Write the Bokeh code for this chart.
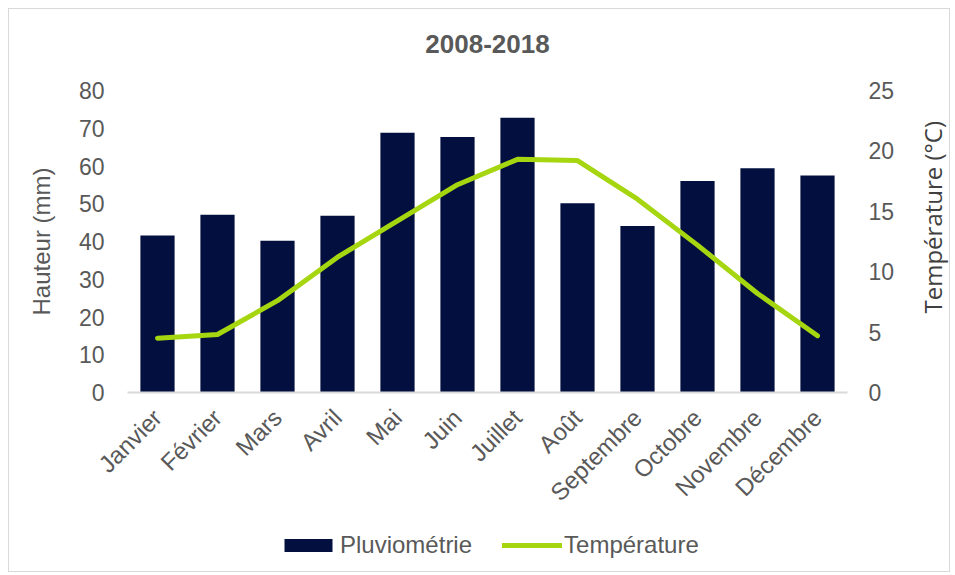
import math
from bokeh.plotting import figure
from bokeh.layouts import column, row
from bokeh.models import Range1d, LinearAxis, Legend, LegendItem, FixedTicker, Title
from bokeh.embed import file_html
from bokeh.resources import INLINE

months = ["Janvier", "Février", "Mars", "Avril", "Mai", "Juin", "Juillet",
          "Août", "Septembre", "Octobre", "Novembre", "Décembre"]
rain = [41.6, 47.1, 40.2, 46.8, 68.8, 67.7, 72.8, 50.1, 44.1, 56.0, 59.4, 57.5]
temp = [4.5, 4.8, 7.6, 11.2, 14.2, 17.2, 19.3, 19.2, 16.0, 12.2, 8.2, 4.7]
left_ticks = [0, 10, 20, 30, 40, 50, 60, 70, 80]
right_ticks = [0, 5, 10, 15, 20, 25]

GRAY = "#595959"
NAVY = "#03103f"
LIME = "#a5d610"
FONT = "Liberation Sans"

RW = 36  # width of the strip holding the right axis title

p = figure(x_range=months, y_range=Range1d(0, 80), width=940 - RW, height=511,
           output_backend="svg", toolbar_location=None,
           min_border_left=118, min_border_right=102 - RW, min_border_top=81,
           min_border_bottom=128)
p.outline_line_color = None
p.grid.grid_line_color = None
p.background_fill_color = "white"
p.border_fill_color = "white"

p.extra_y_ranges = {"temp": Range1d(0, 25)}

bars = p.vbar(x=months, top=rain, width=0.57, fill_color=NAVY, line_color=None)
ln = p.line(x=months, y=temp, y_range_name="temp", line_color=LIME, line_width=5,
            line_cap="round", line_join="round")

# left axis
ya = p.yaxis[0]
ya.ticker = FixedTicker(ticks=left_ticks)
ya.axis_label = "Hauteur (mm)"
ya.axis_line_color = None
ya.major_tick_line_color = None
ya.minor_tick_line_color = None
ya.major_label_text_font = FONT
ya.major_label_text_font_size = "23px"
ya.major_label_text_color = GRAY
ya.major_label_standoff = 17
ya.axis_label_text_font = FONT
ya.axis_label_text_font_size = "24px"
ya.axis_label_text_font_style = "normal"
ya.axis_label_text_color = GRAY
ya.axis_label_standoff = 21

# right axis (ticks)
ra = LinearAxis(y_range_name="temp", ticker=FixedTicker(ticks=right_ticks))
ra.axis_line_color = None
ra.major_tick_line_color = None
ra.minor_tick_line_color = None
ra.major_tick_out = 0
ra.major_tick_in = 0
ra.major_label_text_font = FONT
ra.major_label_text_font_size = "23px"
ra.major_label_text_color = GRAY
ra.major_label_standoff = 21
p.add_layout(ra, "right")

# x axis
xa = p.xaxis[0]
xa.axis_line_color = "#d9d9d9"
xa.axis_line_width = 2
xa.major_tick_line_color = None
xa.minor_tick_line_color = None
xa.major_label_orientation = math.pi / 4
xa.major_label_text_font = FONT
xa.major_label_text_font_size = "24px"
xa.major_label_text_color = GRAY
xa.major_label_standoff = 15

# title: a thin spacer panel next to the frame, then the title above it
p.add_layout(Title(text=" ", text_font_size="1px", standoff=35), "above")
p.add_layout(Title(text="2008-2018", align="center", text_font=FONT, text_font_size="26px",
                   text_font_style="bold", text_color=GRAY, standoff=0), "above")

# legend strip below the chart (hairline zero-height bars, series outside the visible range)
lf = figure(width=940 - RW, height=51, output_backend="svg", toolbar_location=None,
            x_range=months, y_range=Range1d(100, 101),
            min_border=0, min_border_left=0, min_border_right=0,
            min_border_top=0, min_border_bottom=0)
lf.axis.visible = False
lf.grid.grid_line_color = None
lf.outline_line_color = None
lb = lf.vbar(x=months, top=rain, bottom=rain, width=0.001, fill_color=NAVY, line_color=None)
ll = lf.line(x=months, y=temp, line_color=LIME, line_width=5, line_cap="round")
legend = Legend(items=[LegendItem(label="Pluviométrie", renderers=[lb]),
                       LegendItem(label="Température", renderers=[ll])],
                orientation="horizontal", location=(151, 12),
                label_text_font=FONT, label_text_font_size="24px", label_text_color=GRAY,
                glyph_width=60, glyph_height=16, label_standoff=2, spacing=30,
                padding=0, margin=0, border_line_color=None, background_fill_alpha=0)
lf.add_layout(legend, "center")

# right strip: axis title reading bottom-to-top
rf = figure(width=RW, height=562, output_backend="svg", toolbar_location=None,
            x_range=Range1d(0, 1), y_range=Range1d(0, 1),
            min_border_left=RW - 1, min_border_right=0, min_border_top=81,
            min_border_bottom=179)
rf.axis.visible = False
rf.grid.grid_line_color = None
rf.outline_line_color = None
rf.add_layout(Title(text="Température (°C)", align="left", offset=79, standoff=0,
                    text_font="Open Sans", text_font_size="24px", text_font_style="normal",
                    text_color="#404040"), "left")

layout = row(column(p, lf, spacing=0), rf, spacing=0)
layout.styles = {"border": "1px solid #d9d9d9", "margin-left": "8px", "margin-top": "8px",
                 "background-color": "white"}

open("out.html", "w").write(file_html(layout, INLINE))
